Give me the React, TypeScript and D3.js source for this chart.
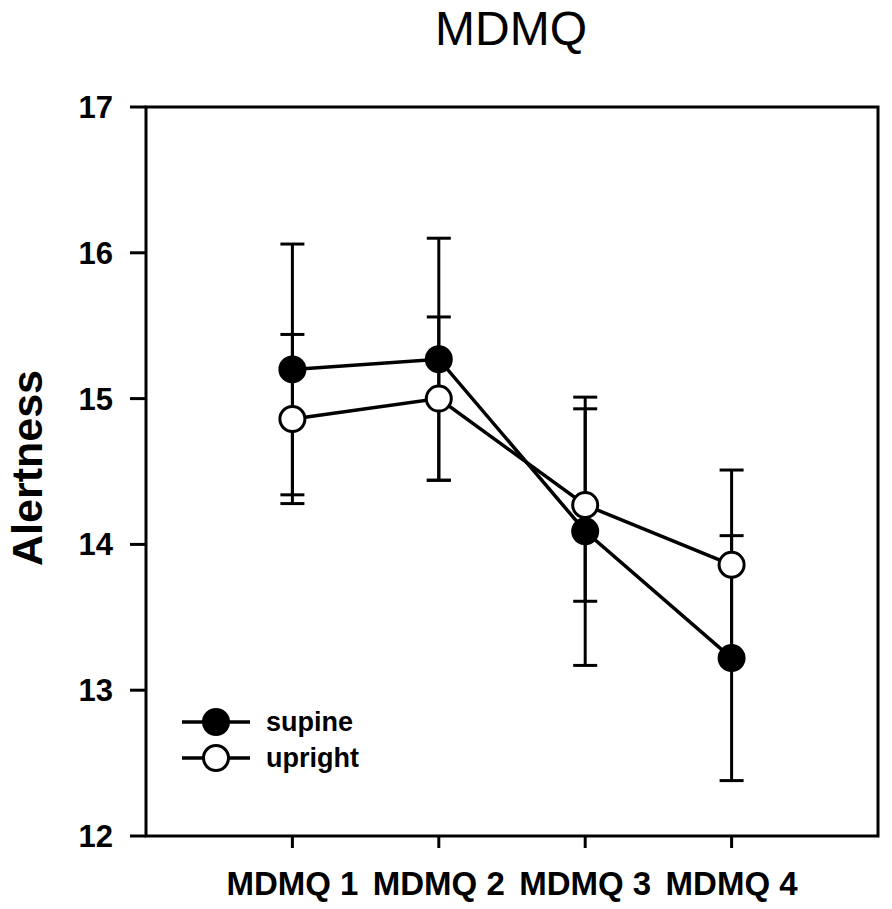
import * as d3 from "d3";

const categories = ["MDMQ 1", "MDMQ 2", "MDMQ 3", "MDMQ 4"];
const supineMean = [15.2, 15.27, 14.09, 13.22];
const supineErr = [0.86, 0.83, 0.92, 0.84];
const uprightMean = [14.86, 15.0, 14.27, 13.86];
const uprightErr = [0.58, 0.56, 0.66, 0.65];
const yTicks = [12, 13, 14, 15, 16, 17];

const width = 892;
const height = 909;
const margin = { top: 107, right: 14, bottom: 73, left: 146 };
const font = "'Liberation Sans', Arial, Helvetica, sans-serif";

const series = [
  { name: "supine", mean: supineMean, err: supineErr, fill: "#000" },
  { name: "upright", mean: uprightMean, err: uprightErr, fill: "#fff" },
];

export default function App() {
  const x = d3.scaleLinear().domain([0, 5]).range([margin.left, width - margin.right]);
  const y = d3.scaleLinear().domain([12, 17]).range([height - margin.bottom, margin.top]);
  const xPos = (i: number) => x(i + 1);

  const line = d3
    .line<number>()
    .x((_, i) => xPos(i))
    .y((d) => y(d));

  const capHalf = 12;

  return (
    <svg
      width={width}
      height={height}
      style={{ position: "absolute", left: 0, top: 0, background: "#fff" }}
      fontFamily={font}
    >
      {/* title */}
      <text x={511} y={45} textAnchor="middle" fontSize={48}>
        MDMQ
      </text>

      {/* frame */}
      <rect
        x={margin.left}
        y={margin.top}
        width={width - margin.left - margin.right}
        height={height - margin.top - margin.bottom}
        fill="none"
        stroke="#000"
        strokeWidth={3}
      />

      {/* y axis ticks */}
      {yTicks.map((t) => (
        <g key={t}>
          <line x1={margin.left - 16} x2={margin.left} y1={y(t)} y2={y(t)} stroke="#000" strokeWidth={3} />
          <text x={113} y={y(t) + 11} textAnchor="end" fontSize={31} fontWeight="bold">
            {t}
          </text>
        </g>
      ))}

      {/* x axis ticks */}
      {categories.map((c, i) => (
        <g key={c}>
          <line x1={xPos(i)} x2={xPos(i)} y1={y(12)} y2={y(12) + 12} stroke="#000" strokeWidth={3} />
          <text x={xPos(i)} y={895} textAnchor="middle" fontSize={33} fontWeight="bold">
            {c}
          </text>
        </g>
      ))}

      <text
        transform={`translate(42, ${468}) rotate(-90)`}
        textAnchor="middle"
        fontSize={43}
        fontWeight="bold"
      >
        Alertness
      </text>

      {/* error bars */}
      {series.map((s) =>
        s.mean.map((m, i) => {
          const cx = xPos(i);
          const hi = y(m + s.err[i]);
          const lo = y(m - s.err[i]);
          return (
            <g key={`${s.name}-eb-${i}`} stroke="#000" strokeWidth={3}>
              <line x1={cx} x2={cx} y1={hi} y2={lo} />
              <line x1={cx - capHalf} x2={cx + capHalf} y1={hi} y2={hi} />
              <line x1={cx - capHalf} x2={cx + capHalf} y1={lo} y2={lo} />
            </g>
          );
        })
      )}

      {/* lines and markers */}
      {series.map((s) => (
        <g key={s.name}>
          <path d={line(s.mean) ?? ""} fill="none" stroke="#000" strokeWidth={3.5} />
          {s.mean.map((m, i) => (
            <circle key={i} cx={xPos(i)} cy={y(m)} r={12.5} fill={s.fill} stroke="#000" strokeWidth={3} />
          ))}
        </g>
      ))}

      {/* legend */}
      {series.map((s, i) => {
        const ly = 722 + i * 36;
        return (
          <g key={`leg-${s.name}`}>
            <line x1={182} x2={250} y1={ly} y2={ly} stroke="#000" strokeWidth={3.5} />
            <circle cx={216} cy={ly} r={12.5} fill={s.fill} stroke="#000" strokeWidth={3} />
            <text x={266} y={ly + 9} fontSize={27} fontWeight="bold">
              {s.name}
            </text>
          </g>
        );
      })}
    </svg>
  );
}
